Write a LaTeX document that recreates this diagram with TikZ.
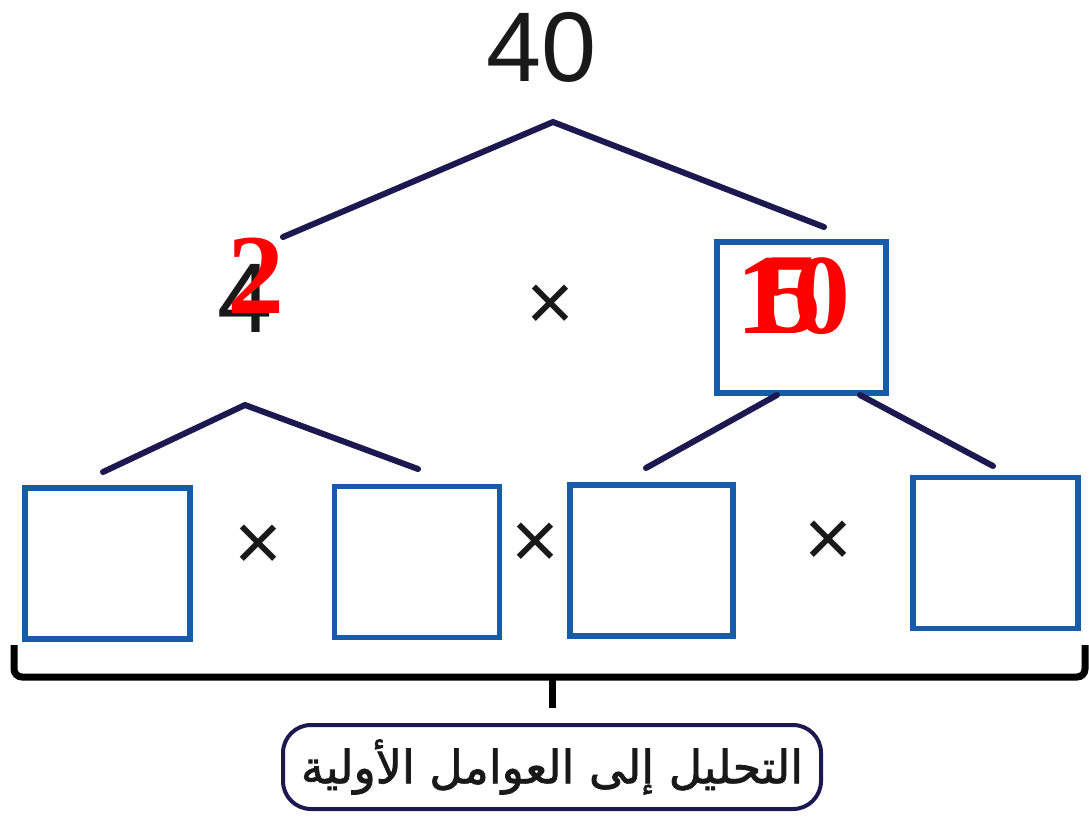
\documentclass[tikz,border=0pt]{standalone}
\usepackage{fontspec}
\usepackage{xcolor}
\usepackage{tikz}
\setmainfont{Liberation Sans}
\newfontfamily\redserif{Liberation Serif}
\newfontfamily\arabicfont[Script=Arabic, FakeBold=1.6]{DejaVu Sans}
\TeXXeTstate=1
\definecolor{navyline}{RGB}{28,24,80}
\definecolor{boxblue}{RGB}{22,92,170}
\definecolor{inkgray}{RGB}{25,25,25}

\begin{document}
\begin{tikzpicture}[x=1pt, y=-1pt,
  numtext/.style={inner sep=0pt, text=inkgray, font=\fontsize{99}{100}\selectfont},
  redtext/.style={inner sep=0pt, text=red, font=\redserif\bfseries\fontsize{114}{116}\selectfont},
  timestext/.style={inner sep=0pt, text=inkgray, font=\fontsize{82}{84}\selectfont},
  answerbox/.style={rectangle, draw=boxblue, line width=5.5pt, inner sep=0pt, minimum width=165pt, minimum height=151pt},
  branch/.style={navyline, line width=6pt, line cap=round}]

\useasboundingbox (0,0) rectangle (1089,817);

\node[numtext] (n40) at (542,47) {40};
\node[numtext] (n4) at (245,298) {4};
\node[redtext] (r2) at (256,276) {2};
\node[timestext] (t1) at (550,308) {×};
\node[answerbox, minimum width=169pt, minimum height=151pt] (box10) at (801.5,317.5) {};
\node[redtext] (r10) at (793,296) {10};
\node[redtext] (r5) at (793,296) {5};

\node[answerbox] (b1) at (107.5,563.5) {};
\node[answerbox] (b2) at (417,562) {};
\node[answerbox, minimum width=163pt] (b3) at (651.5,560.5) {};
\node[answerbox] (b4) at (995.5,553) {};
\node[timestext] (t2) at (258,548) {×};
\node[timestext] (t3) at (535,546) {×};
\node[timestext] (t4) at (828,544) {×};

\coordinate (top) at (553,122);
\coordinate (topL) at (283,237);
\coordinate (topR) at (824,227);
\coordinate (midL) at (245,405);
\coordinate (midLa) at (103,472);
\coordinate (midLb) at (418,469);
\coordinate (boxL) at (777,395);
\coordinate (boxR) at (860,395);
\coordinate (midRa) at (646,468);
\coordinate (midRb) at (993,466);

\draw[branch] (topL) -- (top) -- (topR)
              (midLa) -- (midL) -- (midLb)
              (boxL) -- (midRa)
              (boxR) -- (midRb);

\coordinate (braceL) at (14,645);
\coordinate (braceR) at (1085,645);
\coordinate (braceM) at (552,677);
\coordinate (braceTip) at (552,708);
\draw[line width=7pt, rounded corners=8pt] (braceL) -- (14,677) -- (braceM) -- (1085,677) -- (braceR);
\draw[line width=7pt] (braceM) -- (braceTip);

\node[rectangle, draw=navyline, line width=4pt, rounded corners=28pt,
      minimum width=538pt, minimum height=84pt, inner sep=0pt,
      font=\arabicfont\fontsize{46}{48}\selectfont, text=inkgray] (label) at (552,767)
      {\beginR التحليل إلى العوامل الأولية\endR};
\end{tikzpicture}
\end{document}
